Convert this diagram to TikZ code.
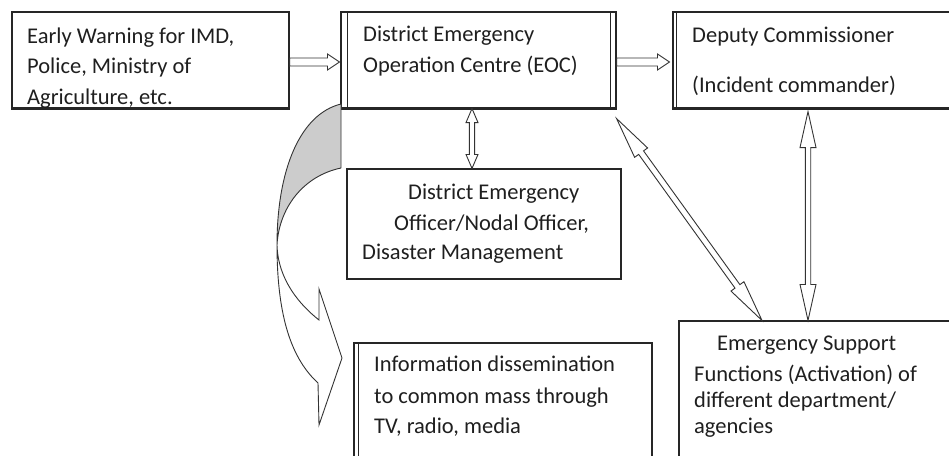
\documentclass[tikz,border=0pt]{standalone}
\usepackage{fontspec}
\setmainfont{Carlito}
\usetikzlibrary{calc}

% hollow block arrow with one head, pointing from #1 to #2
% #3 head length, #4 head half-width, #5 shaft half-width
\newcommand\sglblock[5]{%
  \coordinate (hb) at ($(#2)!#3!(#1)$);
  \draw[blockarrow] (#1) -- ($(#1)!#5!90:(#2)$)
    -- ($(hb)!#5!-90:(#1)$) -- ($(hb)!#4!-90:(#1)$) -- (#2)
    -- ($(hb)!#4!90:(#1)$) -- ($(hb)!#5!90:(#1)$)
    -- ($(#1)!#5!-90:(#2)$) -- cycle;
}
% hollow block arrow with a head at both ends
\newcommand\dblblock[5]{%
  \coordinate (ha) at ($(#1)!#3!(#2)$);
  \coordinate (hb) at ($(#2)!#3!(#1)$);
  \draw[blockarrow] (#1)
    -- ($(ha)!#4!90:(#2)$) -- ($(ha)!#5!90:(#2)$)
    -- ($(hb)!#5!-90:(#1)$) -- ($(hb)!#4!-90:(#1)$)
    -- (#2)
    -- ($(hb)!#4!90:(#1)$) -- ($(hb)!#5!90:(#1)$)
    -- ($(ha)!#5!-90:(#2)$) -- ($(ha)!#4!-90:(#2)$) -- cycle;
}

\begin{document}
\begin{tikzpicture}[x=1pt,y=-1pt,
  box/.style={draw=black!85, line width=1.1pt, fill=white, inner sep=0pt},
  blockarrow/.style={draw=black!80, line width=0.9pt, fill=white, line join=miter},
  txt/.style={anchor=base west, inner sep=0pt, text=black!88,
              font=\fontsize{22.5}{27}\selectfont},
  heavy/.style={draw=black!85, line width=2.2pt}]

\useasboundingbox (0,0) rectangle (949,455);
\fill[white] (0,0) rectangle (949,455);
\clip (0,0) rectangle (949,455);

% boxes
\node[box, minimum width=277pt, minimum height=96pt] (b1) at (150.5,60) {};
\node[box, minimum width=275pt, minimum height=96pt] (b2) at (478.5,60) {};
\node[box, minimum width=292pt, minimum height=96pt] (b3) at (819,60) {};
\node[box, minimum width=274pt, minimum height=110pt] (b4) at (484,224) {};
\node[box, minimum width=298pt, minimum height=132pt] (b5) at (503,409) {};
\node[box, minimum width=286pt, minimum height=154pt] (b6) at (822,398) {};

% heavier lower edges
\draw[heavy] (b1.south west) -- (b1.south east);
\draw[heavy] (b2.south west) -- (b2.south east);
\draw[heavy] (b3.south west) -- (b3.south east);

% inner rules of the process boxes
\draw[black!85, line width=1.1pt] ([xshift=7pt]b2.north west) -- ([xshift=7pt]b2.south west);
\draw[black!85, line width=1.1pt] ([xshift=-6pt]b2.north east) -- ([xshift=-6pt]b2.south east);
\draw[black!85, line width=1.1pt] ([xshift=4pt]b3.north west) -- ([xshift=4pt]b3.south west);
\draw[black!85, line width=1.1pt] ([xshift=5pt]b5.north west) -- ([xshift=5pt]b5.south west);

% texts
\node[txt] (t1a) at (27,43)  {Early Warning for IMD,};
\node[txt] (t1b) at (27,73)  {Police, Ministry of};
\node[txt] (t1c) at (27,104) {Agriculture, etc.};

\node[txt] (t2a) at (363,41) {District Emergency};
\node[txt] (t2b) at (363,72) {Operation Centre (EOC)};

\node[txt] (t3a) at (692,42) {Deputy Commissioner};
\node[txt] (t3b) at (692,92) {(Incident commander)};

\node[txt] (t4a) at (408,199) {District Emergency};
\node[txt] (t4b) at (394,230) {Officer/Nodal Officer,};
\node[txt] (t4c) at (362,259) {Disaster Management};

\node[txt] (t5a) at (374,371) {Information dissemination};
\node[txt] (t5b) at (374,403) {to common mass through};
\node[txt] (t5c) at (374,433) {TV, radio, media};

\node[txt] (t6a) at (717,350) {Emergency Support};
\node[txt] (t6b) at (694,381) {Functions (Activation) of};
\node[txt] (t6c) at (694,407) {different department/};
\node[txt] (t6d) at (694,433) {agencies};

% connector end points
\coordinate (vx) at (472,0);
\coordinate (dx) at (762,0);
\coordinate (ex) at (808,0);

\sglblock{[yshift=-2pt]b1.east}{[yshift=-2pt,xshift=-1pt]b2.west}{12pt}{8pt}{4pt}
\sglblock{[yshift=-2pt]b2.east}{[yshift=-2pt,xshift=-3pt]b3.west}{12pt}{8pt}{4pt}
\dblblock{b2.south -| vx}{b4.north -| vx}{14pt}{6pt}{2.6pt}
\dblblock{[yshift=-10pt]b2.south east}{b6.north -| dx}{42pt}{8pt}{3pt}
\dblblock{[yshift=-3pt]b3.south -| ex}{b6.north -| ex}{36pt}{8pt}{2.7pt}

% curved ribbon arrow towards the dissemination box
\fill[gray!40] (341,104) .. controls (300,114) and (277,170) .. (277,245)
  .. controls (279,208) and (303,176) .. (341,168) -- cycle;
\draw[black!80, line width=0.9pt, line join=miter]
  (341,168) -- (341,104)
  .. controls (300,114) and (277,170) .. (277,245)
  .. controls (277,320) and (293,360) .. (318,383)
  -- (319,425) -- (342,358) -- (319,289) -- (319,320)
  .. controls (300,305) and (278,280) .. (277,245)
  .. controls (279,208) and (303,176) .. (341,168);
\end{tikzpicture}
\end{document}
